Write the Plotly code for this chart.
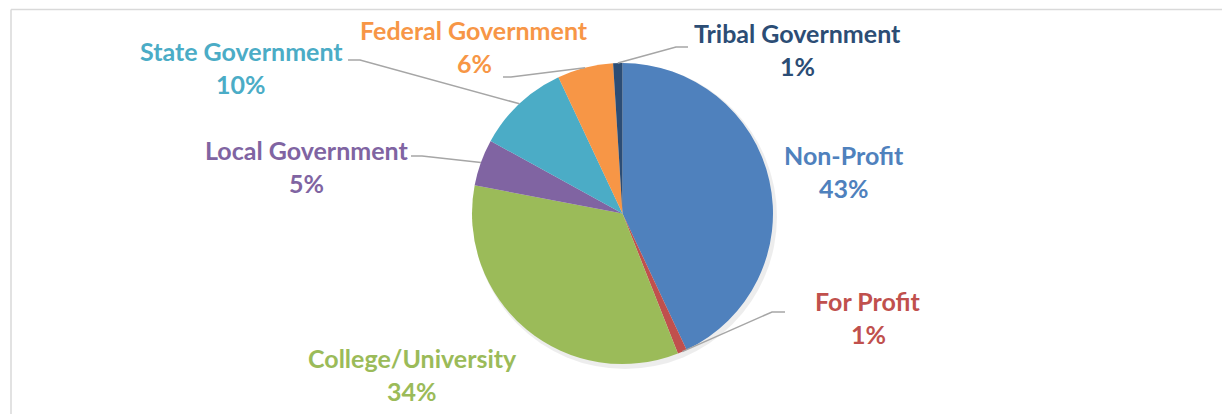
import math
import plotly.graph_objects as go

# ---- data ----
categories = ["Non-Profit", "For Profit", "College/University", "Local Government",
              "State Government", "Federal Government", "Tribal Government"]
values = [43, 1, 34, 5, 10, 6, 1]
colors = ["#4F81BD", "#C0504D", "#9BBB59", "#8064A2", "#4BACC6", "#F79646", "#2C4D75"]

# ---- layout constants (pixels) ----
W, H = 1222, 414
CX, CY, R = 622.5, 213.5, 150.5
FONT = "Lato"
FS = 25
LINE_GAP = 33

# label placement: (center x, first-line y, leader-line (label end x, y, elbow x))
label_pos = {
    "Non-Profit": (844, 155, None),
    "For Profit": (868, 301, (785, 312, 772)),
    "College/University": (412, 358, None),
    "Local Government": (306, 150, (411, 156, 422)),
    "State Government": (241, 51, (348, 60, 360)),
    "Federal Government": (474, 30, (503, 77, 511)),
    "Tribal Government": (797, 33, (688, 47, 676)),
}

def px(x):
    return x / W

def py(y):
    return 1 - y / H

fig = go.Figure()
fig.add_trace(go.Pie(
    labels=categories, values=values, sort=False, direction="clockwise", rotation=0,
    marker=dict(colors=colors, line=dict(width=0)),
    textinfo="none", hoverinfo="label+percent", showlegend=False,
    domain=dict(x=[px(CX - R), px(CX + R)], y=[py(CY + R), py(CY - R)]),
))

shapes = []
# frame
shapes.append(dict(type="line", xref="paper", yref="paper", x0=px(11), x1=1.0, y0=py(9.5), y1=py(9.5),
                   line=dict(color="#D9D9D9", width=1.5)))
shapes.append(dict(type="line", xref="paper", yref="paper", x0=px(11), x1=px(11), y0=py(9.5), y1=0,
                   line=dict(color="#D9D9D9", width=1.5)))
# soft shadow
shapes.append(dict(type="circle", xref="paper", yref="paper", layer="below",
                   x0=px(CX - R + 1), x1=px(CX + R + 4), y0=py(CY + R + 5), y1=py(CY - R + 1),
                   fillcolor="rgba(0,0,0,0.07)", line=dict(width=0)))

annotations = []
total = sum(values)
cum = 0
for cat, val, col in zip(categories, values, colors):
    mid = (cum + val / 2) / total
    cum += val
    ang = 2 * math.pi * mid
    ex = CX + R * math.sin(ang)
    ey = CY - R * math.cos(ang)
    lx, ly, lead = label_pos[cat]
    annotations.append(dict(x=px(lx), y=py(ly), xref="paper", yref="paper", text=f"<b>{cat}</b>",
                            showarrow=False, xanchor="center", yanchor="middle",
                            font=dict(family=FONT, size=FS, color=col)))
    annotations.append(dict(x=px(lx), y=py(ly + LINE_GAP), xref="paper", yref="paper",
                            text=f"<b>{val}%</b>", showarrow=False, xanchor="center", yanchor="middle",
                            font=dict(family=FONT, size=FS, color=col)))
    if lead:
        ax, ay, bx = lead
        shapes.append(dict(type="path", xref="paper", yref="paper",
                           path=f"M {px(ax)},{py(ay)} L {px(bx)},{py(ay)} L {px(ex)},{py(ey)}",
                           line=dict(color="#A6A6A6", width=1.5)))

fig.update_layout(
    width=W, height=H, margin=dict(l=0, r=0, t=0, b=0),
    paper_bgcolor="white", plot_bgcolor="white",
    shapes=shapes, annotations=annotations,
)
fig.write_html("out.html", config={"displayModeBar": False},
               post_script="document.body.style.margin='0';")
